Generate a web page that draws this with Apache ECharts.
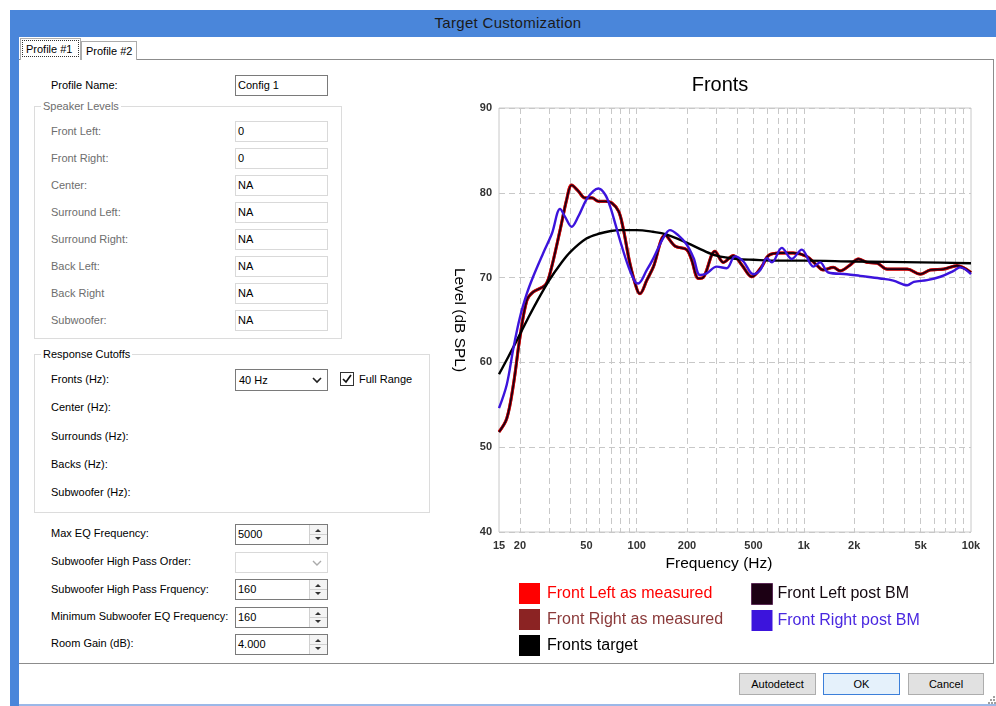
<!DOCTYPE html>
<html><head><meta charset="utf-8">
<script src="https://cdn.jsdelivr.net/npm/echarts@6/dist/echarts.min.js"></script>
<style>
body{margin:0;width:996px;height:706px;overflow:hidden;background:#fff;font-family:"Liberation Sans",Arial,sans-serif;position:relative}
.a{position:absolute}
.l{position:absolute;font-size:11px;line-height:14px;color:#000;white-space:nowrap}
.g{color:#6d6d6d}
.tb{position:absolute;box-sizing:border-box;width:93px;height:21px;border:1px solid #7a7a7a;background:#fff;font-size:11px;line-height:19px;padding-left:2px;color:#000}
.dis{border-color:#d9d9d9}
.grp{position:absolute;box-sizing:border-box;border:1px solid #dcdcdc}
.sp{position:absolute;right:0;top:0;width:17px;height:19px;border-left:1px solid #d0d0d0;background:#f4f4f4}
.up,.dn{position:absolute;left:5px;width:0;height:0;border-left:3px solid transparent;border-right:3px solid transparent}
.up{top:4px;border-bottom:3px solid #333}
.dn{top:12px;border-top:3px solid #333}
.mid{position:absolute;left:0;top:9px;width:17px;height:1px;background:#d0d0d0}
.btn{position:absolute;box-sizing:border-box;height:22px;border:1px solid #adadad;background:#e1e1e1;font-size:11px;line-height:20px;text-align:center;color:#000}
</style></head><body>
<div class="a" style="left:10px;top:10px;width:986px;height:27px;background:#4a86da"></div>
<div class="a" style="left:408px;top:14px;width:200px;text-align:center;font-size:15px;letter-spacing:0.3px;color:#1a1a1a">Target Customization</div>
<div class="a" style="left:10px;top:37px;width:9px;height:669px;background:#4a86da"></div>
<div class="a" style="left:19px;top:704px;width:977px;height:2px;background:#9bb8e8"></div>
<!-- tab page -->
<div class="a" style="left:19px;top:59px;width:975px;height:605px;box-sizing:border-box;border:1px solid #8c8c8c;border-left:none"></div>
<div class="a" style="left:81px;top:41px;width:56px;height:19px;box-sizing:border-box;border:1px solid #acacac;border-bottom:none;background:#fff"></div>
<div class="l" style="left:86px;top:44px">Profile #2</div>
<div class="a" style="left:20px;top:38px;width:61px;height:22px;box-sizing:border-box;border:1px solid #acacac;border-bottom:none;background:#fff"></div>
<div class="a" style="left:22px;top:40px;width:57px;height:17px;box-sizing:border-box;border:1px dotted #333"></div>
<div class="l" style="left:26px;top:42px">Profile #1</div>

<div class="l" style="left:51px;top:78px">Profile Name:</div>
<div class="tb" style="left:235px;top:75px">Config 1</div>

<div class="grp" style="left:34px;top:106px;width:308px;height:233px"></div>
<div class="l g" style="left:41px;top:99px;background:#fff;padding:0 2px">Speaker Levels</div>
<div class="l g" style="left:51px;top:124px">Front Left:</div><div class="tb dis" style="left:235px;top:121px">0</div>
<div class="l g" style="left:51px;top:151px">Front Right:</div><div class="tb dis" style="left:235px;top:148px">0</div>
<div class="l g" style="left:51px;top:178px">Center:</div><div class="tb dis" style="left:235px;top:175px">NA</div>
<div class="l g" style="left:51px;top:205px">Surround Left:</div><div class="tb dis" style="left:235px;top:202px">NA</div>
<div class="l g" style="left:51px;top:232px">Surround Right:</div><div class="tb dis" style="left:235px;top:229px">NA</div>
<div class="l g" style="left:51px;top:259px">Back Left:</div><div class="tb dis" style="left:235px;top:256px">NA</div>
<div class="l g" style="left:51px;top:286px">Back Right</div><div class="tb dis" style="left:235px;top:283px">NA</div>
<div class="l g" style="left:51px;top:313px">Subwoofer:</div><div class="tb dis" style="left:235px;top:310px">NA</div>

<div class="grp" style="left:34px;top:354px;width:396px;height:159px"></div>
<div class="l" style="left:41px;top:347px;background:#fff;padding:0 2px">Response Cutoffs</div>
<div class="l" style="left:51px;top:372px">Fronts (Hz):</div>
<div class="tb" style="left:235px;top:369px;height:22px;line-height:20px;padding-left:3px">40 Hz
<svg class="a" style="left:76px;top:7px" width="10" height="7"><path d="M1 1 L5 5 L9 1" fill="none" stroke="#222" stroke-width="1.6"/></svg></div>
<svg class="a" style="left:340px;top:372px" width="14" height="14"><rect x="0.5" y="0.5" width="13" height="13" fill="#fff" stroke="#333"/><path d="M3 7 L6 10 L11 3" fill="none" stroke="#111" stroke-width="1.7"/></svg>
<div class="l" style="left:359px;top:372px">Full Range</div>
<div class="l" style="left:51px;top:400px">Center (Hz):</div>
<div class="l" style="left:51px;top:429px">Surrounds (Hz):</div>
<div class="l" style="left:51px;top:457px">Backs (Hz):</div>
<div class="l" style="left:51px;top:485px">Subwoofer (Hz):</div>

<div class="l" style="left:51px;top:526px">Max EQ Frequency:</div>
<div class="tb" style="left:235px;top:524px">5000<div class="sp"><div class="up"></div><div class="mid"></div><div class="dn"></div></div></div>
<div class="l" style="left:51px;top:554px">Subwoofer High Pass Order:</div>
<div class="tb dis" style="left:235px;top:552px"><svg class="a" style="left:76px;top:7px" width="10" height="7"><path d="M1 1 L5 5 L9 1" fill="none" stroke="#aaa" stroke-width="1.4"/></svg></div>
<div class="l" style="left:51px;top:582px">Subwoofer High Pass Frquency:</div>
<div class="tb" style="left:235px;top:579px">160<div class="sp"><div class="up"></div><div class="mid"></div><div class="dn"></div></div></div>
<div class="l" style="left:51px;top:609px">Minimum Subwoofer EQ Frequency:</div>
<div class="tb" style="left:235px;top:607px">160<div class="sp"><div class="up"></div><div class="mid"></div><div class="dn"></div></div></div>
<div class="l" style="left:51px;top:636px">Room Gain (dB):</div>
<div class="tb" style="left:235px;top:634px">4.000<div class="sp"><div class="up"></div><div class="mid"></div><div class="dn"></div></div></div>

<div class="btn" style="left:739px;top:673px;width:77px">Autodetect</div>
<div class="btn" style="left:823px;top:673px;width:77px;border-color:#3c7fd9;background:#e5f1fb">OK</div>
<div class="btn" style="left:908px;top:673px;width:76px">Cancel</div>

<div id="chart" class="a" style="left:440px;top:60px;width:560px;height:600px"></div>
<script>
// ---- chart data ----
const seriesNames = ['Front Left as measured', 'Front Right as measured', 'Fronts target', 'Front Left post BM', 'Front Right post BM'];
const targetFreq = [15, 17, 20, 22.5, 25, 30, 35, 40, 50, 60, 70, 80, 100, 125, 150, 200, 250, 300, 400, 500, 700, 1000, 2000, 5000, 10000];
const targetDb   = [58.6, 60.6, 63.3, 65.3, 67.0, 69.7, 71.6, 73.0, 74.6, 75.2, 75.5, 75.6, 75.6, 75.4, 75.1, 74.1, 73.2, 72.6, 72.2, 72.1, 72.0, 72.0, 71.9, 71.8, 71.7];
const leftFreq = [15, 16.7, 18.3, 20, 22, 24, 28.3, 30.3, 34.8, 38.1, 40.8, 44.7, 49, 54, 59, 65, 71, 78, 83, 91, 100, 104.5, 115, 126, 148, 170, 199, 213, 234, 251, 294, 330, 378, 425, 488, 560, 614, 720, 864, 1040, 1190, 1305, 1500, 1650, 1895, 2120, 2380, 2740, 3150, 4160, 4970, 5720, 6860, 8240, 10000];
const leftDb   = [51.8, 53.4, 57.4, 62.9, 67.3, 68.3, 69.1, 70.5, 75.6, 79.2, 80.9, 80.2, 79.4, 79.4, 79.0, 79.0, 78.8, 77.8, 75.8, 71.7, 68.7, 68.1, 69.7, 71.3, 75.0, 73.7, 73.3, 72.1, 69.9, 70.05, 73.1, 71.8, 72.6, 71.5, 70.1, 71.3, 72.6, 72.9, 72.9, 72.5, 71.5, 70.9, 71.2, 70.8, 71.5, 72.2, 71.8, 71.7, 71.0, 71.0, 70.4, 70.9, 71.0, 71.4, 70.6];
const rightFreq = [15, 16.7, 18.3, 20, 22, 24, 27.6, 31.1, 34.8, 37.2, 40.8, 44.7, 50, 55, 59, 64.7, 69.3, 74.3, 81.4, 89.2, 97.8, 102, 115, 126, 144, 158, 177, 199, 219, 239, 262, 301, 345, 387, 435, 498, 549, 601, 644, 738, 846, 971, 1140, 1251, 1402, 1809, 2172, 2858, 3430, 4160, 4550, 5460, 6560, 7870, 8600, 10000];
const rightDb   = [54.6, 57.4, 61.7, 65.3, 68.1, 70.1, 72.9, 75.2, 78.1, 77.2, 76.0, 77.2, 79.2, 80.2, 80.5, 79.8, 78.4, 76.4, 73.7, 71.3, 69.5, 69.3, 70.9, 72.3, 74.65, 75.6, 75.0, 73.9, 72.3, 70.3, 70.5, 71.3, 71.1, 72.5, 71.9, 70.4, 70.9, 72.3, 71.8, 73.5, 72.2, 73.3, 71.3, 71.8, 70.6, 70.4, 70.2, 69.9, 69.65, 69.1, 69.5, 69.7, 70.1, 70.8, 71.2, 70.4];
const xLabelValues = [15, 20, 50, 100, 200, 500, 1000, 2000, 5000, 10000];
const xGridValues = [20, 30, 40, 50, 60, 70, 80, 90, 100, 200, 300, 400, 500, 600, 700, 800, 900, 1000, 2000, 3000, 4000, 5000, 6000, 7000, 8000, 9000];
const yMin = 40, yMax = 90, yStep = 10;

const pairs = (f, d) => f.map((v, i) => [v, d[i]]);
const font = 'Liberation Sans';
const chart = echarts.init(document.getElementById('chart'), null, {renderer: 'canvas'});
const lineSeries = (name, data, color, width, z) => ({
  name, type: 'line', data, smooth: 0.35, showSymbol: false, symbol: 'none', z,
  lineStyle: {color, width}, itemStyle: {color}, emphasis: {disabled: true}
});
chart.setOption({
  animation: false,
  title: {text: 'Fronts', left: 'center', top: 15, padding: 0,
    textStyle: {fontFamily: font, fontSize: 20, fontWeight: 'normal', color: '#000'}},
  grid: {left: 59, top: 48, width: 472, height: 424, show: true, borderColor: '#c8c8c8', borderWidth: 1},
  xAxis: {
    type: 'log', logBase: 10, min: 15, max: 10000,
    name: 'Frequency (Hz)', nameLocation: 'middle', nameGap: 24,
    nameTextStyle: {fontFamily: font, fontSize: 15.5, color: '#000', padding: [0, 32, 0, 0]},
    axisLine: {show: false},
    axisTick: {show: false, customValues: xGridValues},
    axisLabel: {customValues: xLabelValues, margin: 8, fontFamily: font, fontSize: 11, fontWeight: 'bold', color: '#333',
      formatter: v => v >= 1000 ? (v / 1000) + 'k' : String(v)},
    splitLine: {show: true, lineStyle: {color: '#c8c8c8', width: 1, type: [6, 4]}}
  },
  yAxis: {
    type: 'value', min: yMin, max: yMax, interval: yStep,
    name: 'Level (dB SPL)', nameLocation: 'middle', nameGap: 32, nameRotate: -90,
    nameTextStyle: {fontFamily: font, fontSize: 15.5, color: '#000'},
    axisLine: {show: false}, axisTick: {show: false},
    axisLabel: {margin: 7, fontFamily: font, fontSize: 11, fontWeight: 'bold', color: '#333'},
    splitLine: {show: true, lineStyle: {color: '#c8c8c8', width: 1, type: [6, 4]}}
  },
  legend: [
    {left: 79, top: 523, orient: 'vertical', padding: 0, itemGap: 5, itemWidth: 21, itemHeight: 21, icon: 'rect', selectedMode: false,
      textStyle: {fontFamily: font, fontSize: 16, padding: [0, 0, 0, 2]},
      data: [
        {name: seriesNames[0], textStyle: {color: '#ff0000'}},
        {name: seriesNames[1], textStyle: {color: '#8b3a3a'}},
        {name: seriesNames[2], textStyle: {color: '#000000'}}
      ]},
    {left: 311, top: 523, orient: 'vertical', padding: 0, itemGap: 5, itemWidth: 21, itemHeight: 21, icon: 'rect', selectedMode: false,
      textStyle: {fontFamily: font, fontSize: 16},
      data: [
        {name: seriesNames[3], textStyle: {color: '#140810'}, itemStyle: {borderColor: '#5a2a55', borderWidth: 1}},
        {name: seriesNames[4], textStyle: {color: '#4a28e0'}}
      ]}
  ],
  series: [
    lineSeries(seriesNames[1], pairs(leftFreq, leftDb), '#8b2323', 3.1, 2),
    lineSeries(seriesNames[0], pairs(leftFreq, leftDb), '#ff0000', 2.8, 3),
    lineSeries(seriesNames[3], pairs(leftFreq, leftDb), '#1c0014', 1.8, 4),
    lineSeries(seriesNames[2], pairs(targetFreq, targetDb), '#000000', 2.4, 5),
    lineSeries(seriesNames[4], pairs(rightFreq, rightDb), '#3c14dc', 2.4, 6)
  ]
});
</script>
<svg class="a" style="left:988px;top:696px" width="8" height="8"><g fill="#a0a0a0"><rect x="5" y="0" width="2" height="2"/><rect x="2" y="3" width="2" height="2"/><rect x="5" y="3" width="2" height="2"/><rect x="0" y="6" width="2" height="2"/><rect x="3" y="6" width="2" height="2"/><rect x="6" y="6" width="2" height="2"/></g></svg>
</body></html>
